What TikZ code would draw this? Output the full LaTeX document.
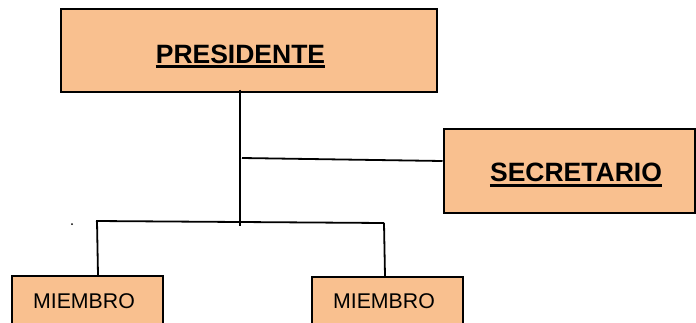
\documentclass[tikz,border=0pt]{standalone}
\usepackage{fontspec}
\setmainfont{Liberation Sans}
\definecolor{boxfill}{RGB}{249,192,143}
\begin{document}
\begin{tikzpicture}[x=1pt,y=-1pt,
  orgbox/.style={draw=black, line width=2pt, fill=boxfill, rectangle, inner sep=0pt},
  bigtext/.style={font=\fontsize{26.5}{30}\selectfont\bfseries, inner sep=0pt, anchor=base},
  smalltext/.style={font=\fontsize{21.3}{25}\selectfont, inner sep=0pt, anchor=base},
  uline/.style={line width=2.5pt},
  conn/.style={line width=1.8pt}]
\useasboundingbox (0,0) rectangle (696,322);
% boxes
\node[orgbox, minimum width=376pt, minimum height=83pt] (pres) at (249,50) {};
\node[orgbox, minimum width=251pt, minimum height=84pt] (sec) at (569,171) {};
\node[orgbox, minimum width=151pt, minimum height=60pt] (m1) at (87.5,306) {};
\node[orgbox, minimum width=151pt, minimum height=60pt] (m2) at (387.5,307) {};
% texts
\node[bigtext] (pt) at (240.5,63) {PRESIDENTE};
\draw[uline] ([yshift=-3.5pt]pt.base west) -- ([yshift=-3.5pt]pt.base east);
\node[bigtext] (st) at (576,181) {SECRETARIO};
\draw[uline] ([yshift=-4.5pt]st.base west) -- ([yshift=-4.5pt]st.base east);
\node[smalltext] (m1t) at (84,308) {MIEMBRO};
\node[smalltext] (m2t) at (384,308) {MIEMBRO};
% connectors
\coordinate (trunkend) at (240,226);
\coordinate (j1) at (242,158);
\coordinate (bl) at (96,221);
\coordinate (br) at (384,223);
\draw[line width=2pt] ([yshift=3pt]pres.south -| trunkend) -- (trunkend);
\draw[conn] (j1) -- ([yshift=10pt]sec.west);
\draw[conn] (bl) -- (br);
\draw[conn] ([xshift=1pt]bl) -- ([xshift=2pt]m1.north -| bl);
\draw[conn] (br) -- ([xshift=1pt]m2.north -| br);
% stray dot
\fill (72,224) circle (1pt);
\end{tikzpicture}
\end{document}
